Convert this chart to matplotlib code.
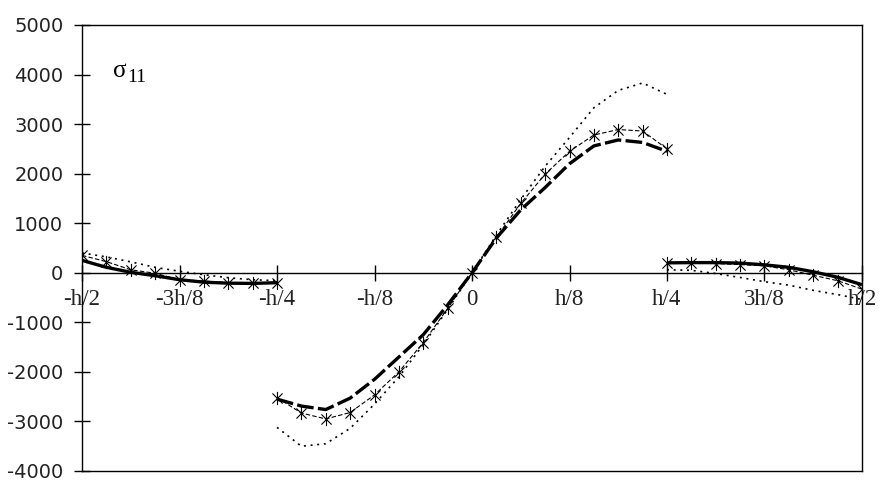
#!/usr/bin/env python3
"""
Through-thickness distribution of sigma_11 (three layers, jump at +-h/4).
"""
import numpy as np
import matplotlib.pyplot as plt
from matplotlib.path import Path

# positions through the thickness, in units of h/32
z_left = [-16, -15, -14, -13, -12, -11, -10, -9, -8]
z_mid = [-8, -7, -6, -5, -4, -3, -2, -1, 0, 1, 2, 3, 4, 5, 6, 7, 8]
z_right = [8, 9, 10, 11, 12, 13, 14, 15, 16]

# thick line
thick_left = [250, 110, 10, -60, -140, -190, -210, -215, -200]
thick_mid = [-2550, -2690, -2760, -2530, -2150, -1700, -1250, -650, 0,
             700, 1270, 1720, 2200, 2560, 2680, 2630, 2450]
thick_right = [200, 205, 205, 195, 160, 110, 20, -90, -240]

# asterisk series
star_left = [350, 225, 60, -10, -140, -165, -200, -215, -205]
star_mid = [-2520, -2830, -2950, -2820, -2465, -2000, -1410, -720, 0,
            715, 1400, 1990, 2450, 2780, 2890, 2860, 2500]
star_right = [195, 195, 185, 165, 140, 60, -50, -160, -330]

# dotted series
dot_left = [400, 320, 220, 110, 30, -40, -100, -140, -160]
dot_mid = [-3120, -3500, -3450, -3140, -2650, -2100, -1450, -740, 0,
           760, 1480, 2150, 2730, 3330, 3680, 3830, 3600]
dot_right = [60, 50, -15, -95, -180, -250, -355, -440, -540]

xtick_labels = ['-h/2', '-3h/8', '-h/4', '-h/8', '0',
                'h/8', 'h/4', '3h/8', 'h/2']
ytick_values = [-4000, -3000, -2000, -1000, 0, 1000, 2000, 3000, 4000, 5000]

# excel-like asterisk: X plus vertical bar
ast = Path([(-1, -1), (1, 1), (-1, 1), (1, -1), (0, -1.3), (0, 1.3)],
           [Path.MOVETO, Path.LINETO] * 3)


def main():
    fig = plt.figure(figsize=(8.83, 4.92), dpi=100)
    ax = fig.add_axes([0.0929, 0.0427, 0.8833, 0.9065])

    segs = [(z_left, thick_left, star_left, dot_left, '-'),
            (z_mid, thick_mid, star_mid, dot_mid, (0, (5, 1.3))),
            (z_right, thick_right, star_right, dot_right, '-')]
    for z, th, st, dt, ls in segs:
        x = np.array(z) / 32.0
        ax.plot(x, dt, color='black', lw=1.2, ls=(0, (1.2, 2.8)), zorder=2)
        ax.plot(x, st, color='black', lw=0.8, ls=(0, (4, 2)),
                marker=ast, ms=9.5, mew=0.8, mfc='none', mec='black',
                zorder=3)
        ax.plot(x, th, color='black', lw=2.4, ls=ls,
                solid_capstyle='butt', dash_capstyle='butt', zorder=4)

    ax.set_xlim(-0.5, 0.5)
    ax.set_ylim(-4000, 5000)

    # x axis runs through zero, box kept with a line at the bottom
    ax.spines['bottom'].set_position(('data', 0))
    for s in ax.spines.values():
        s.set_linewidth(1.0)
    ax.plot([0, 1], [0, 0], transform=ax.transAxes, color='black',
            lw=1.0, clip_on=False)

    ax.set_xticks(np.arange(-4, 5) / 8.0)
    ax.set_xticklabels(xtick_labels, family='Liberation Serif',
                       fontsize=16.5, color='#222222')
    ax.set_yticks(ytick_values)
    ax.set_yticklabels([str(v) for v in ytick_values],
                       family='DejaVu Sans', fontsize=14, color='#222222')
    ax.tick_params(axis='x', direction='inout', length=12, width=1.0,
                   pad=6)
    ax.tick_params(axis='y', direction='inout', length=11, width=1.0,
                   pad=8)

    # sigma_11 label, sigma upright with its own subscript
    ax.text(0.0397, 0.897, '\u03c3', transform=ax.transAxes,
            family='Liberation Serif', fontsize=18, va='center', ha='left')
    ax.text(0.0577, 0.872, '11', transform=ax.transAxes,
            family='Liberation Serif', fontsize=14, va='baseline',
            ha='left')

    fig.savefig('out.png', dpi=100)


if __name__ == "__main__":
    main()
